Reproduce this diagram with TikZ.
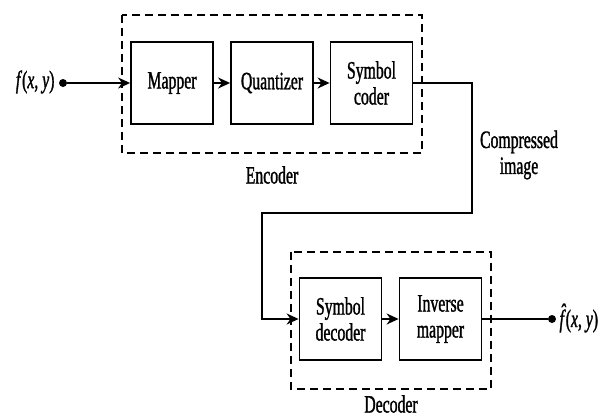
\documentclass[tikz,border=0pt]{standalone}
\usepackage{fontspec}
\setmainfont{Liberation Serif}[FakeStretch=0.63,FakeBold=1.2]
\usetikzlibrary{arrows.meta}
\begin{document}
\begin{tikzpicture}[x=1pt,y=-1pt,
  blk/.style={draw,line width=1.8pt,minimum width=82pt,minimum height=82pt,inner sep=0pt,align=center,font=\fontsize{25}{26}\selectfont},
  grp/.style={draw,line width=1.8pt,dash pattern=on 8pt off 5pt},
  lbl/.style={align=center,font=\fontsize{25}{26}\selectfont},
  conn/.style={line width=1.8pt},
  arr/.style={conn,-{Stealth[length=12pt,width=11pt]}},
  dot/.style={circle,fill,inner sep=0pt,minimum size=8pt}]
\useasboundingbox (0,0) rectangle (608,418);
% encoder
\draw[grp] (122,15) rectangle (422,153);
\node[blk] (map) at (172,83) {Mapper};
\node[blk] (qua) at (272,83) {Quantizer};
\node[blk] (sc) at (371.5,83) {Symbol\\coder};
\node[lbl] (enc) at (272,175) {Encoder};
% decoder
\draw[grp] (291,252) rectangle (491,389);
\node[blk] (sd) at (340.5,319) {Symbol\\decoder};
\node[blk] (im) at (440.5,319) {Inverse\\mapper};
\node[lbl] (dec) at (391,404) {Decoder};
% input/output
\node[dot] (in) at (63,83) {};
\node[lbl,anchor=east] (fin) at (58,82) {\textit{f}(\textit{x}, \textit{y})};
\node[dot] (out) at (552,319) {};
\node[lbl,anchor=west] (fout) at (556,318) {\textit{\accent"02C6 f}(\textit{x}, \textit{y})};
\node[lbl] (ci) at (519,155) {Compressed\\image};
% connectors
\coordinate (cA) at (472,213);
\coordinate (cB) at (262,213);
\draw[arr] (in) -- (map.west);
\draw[arr] (map) -- (qua);
\draw[arr] (qua) -- (sc);
\draw[arr] (sc.east) -| (cA) -- (cB) |- (sd.west);
\draw[arr] (sd) -- (im);
\draw[conn] (im.east) -- (out);
\end{tikzpicture}
\end{document}
